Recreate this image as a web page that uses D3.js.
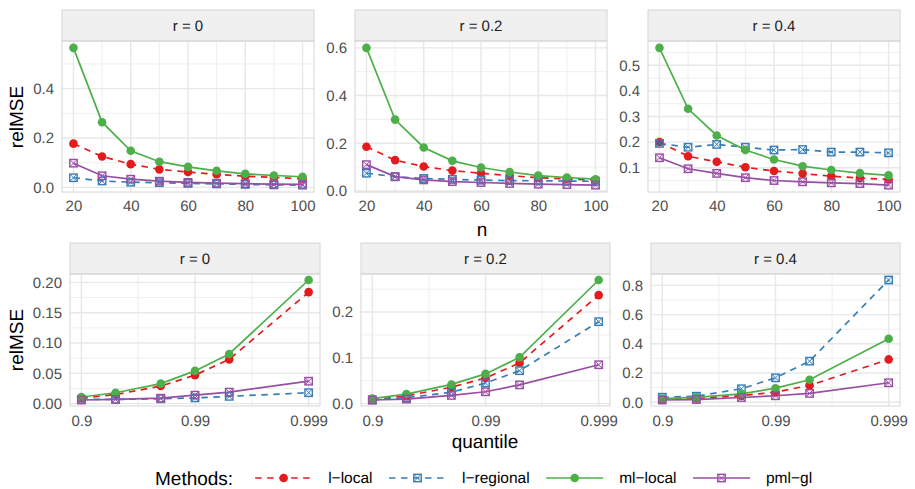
<!DOCTYPE html>
<html>
<head>
<meta charset="utf-8">
<script src="https://cdn.jsdelivr.net/npm/d3@7"></script>
<style>
  body { margin: 0; background: #fff; }
  svg { display: block; font-family: "Liberation Sans", Arial, sans-serif; text-rendering: geometricPrecision; }
</style>
</head>
<body>
<div id="chart"></div>
<script>
const methods = ["l\u2212local", "l\u2212regional", "ml\u2212local", "pml\u2212gl"];
const colors = ["#E41A1C", "#377EB8", "#4DAF4A", "#984EA3"];
const dashed = [true, true, false, false];
const shapes = ["circle", "boxX", "circle", "boxX"];
const rLabels = ["r = 0", "r = 0.2", "r = 0.4"];

const nValues = [20, 30, 40, 50, 60, 70, 80, 90, 100];
const nTicks = [20, 40, 60, 80, 100];
const quantiles = [0.9, 0.95, 0.98, 0.99, 0.995, 0.999];
const qTicks = [0.9, 0.99, 0.999];

// relMSE by n, one array per method, per r
const nLocalR0 = [0.177, 0.125, 0.094, 0.073, 0.062, 0.053, 0.045, 0.040, 0.035];
const nRegionalR0 = [0.039, 0.026, 0.021, 0.019, 0.016, 0.014, 0.012, 0.010, 0.009];
const nMlR0 = [0.565, 0.264, 0.148, 0.104, 0.083, 0.067, 0.055, 0.048, 0.043];
const nPmlR0 = [0.098, 0.047, 0.033, 0.025, 0.020, 0.017, 0.015, 0.013, 0.012];

const nLocalR2 = [0.185, 0.129, 0.102, 0.085, 0.074, 0.064, 0.055, 0.050, 0.045];
const nRegionalR2 = [0.074, 0.059, 0.052, 0.048, 0.045, 0.043, 0.042, 0.041, 0.040];
const nMlR2 = [0.600, 0.299, 0.182, 0.126, 0.098, 0.079, 0.064, 0.056, 0.049];
const nPmlR2 = [0.110, 0.060, 0.046, 0.039, 0.035, 0.031, 0.028, 0.026, 0.024];

const nLocalR4 = [0.200, 0.145, 0.123, 0.102, 0.087, 0.077, 0.067, 0.060, 0.054];
const nRegionalR4 = [0.195, 0.180, 0.191, 0.180, 0.169, 0.171, 0.161, 0.161, 0.158];
const nMlR4 = [0.568, 0.330, 0.226, 0.169, 0.132, 0.106, 0.091, 0.079, 0.070];
const nPmlR4 = [0.139, 0.096, 0.078, 0.061, 0.050, 0.045, 0.041, 0.038, 0.032];

// relMSE by quantile
const qLocalR0 = [0.009, 0.015, 0.029, 0.047, 0.073, 0.184];
const qRegionalR0 = [0.007, 0.007, 0.008, 0.0095, 0.012, 0.018];
const qMlR0 = [0.011, 0.018, 0.033, 0.054, 0.082, 0.204];
const qPmlR0 = [0.006, 0.007, 0.009, 0.014, 0.019, 0.037];

const qLocalR2 = [0.009, 0.017, 0.036, 0.056, 0.089, 0.237];
const qRegionalR2 = [0.008, 0.013, 0.025, 0.045, 0.072, 0.179];
const qMlR2 = [0.011, 0.021, 0.042, 0.065, 0.101, 0.270];
const qPmlR2 = [0.008, 0.010, 0.018, 0.026, 0.041, 0.085];

const qLocalR4 = [0.020, 0.025, 0.045, 0.069, 0.115, 0.293];
const qRegionalR4 = [0.034, 0.041, 0.092, 0.167, 0.281, 0.837];
const qMlR4 = [0.025, 0.033, 0.057, 0.096, 0.154, 0.435];
const qPmlR4 = [0.015, 0.018, 0.032, 0.044, 0.060, 0.133];

const yTicksN = [[0, 0.2, 0.4], [0, 0.2, 0.4, 0.6], [0.1, 0.2, 0.3, 0.4, 0.5]];
const yTicksQ = [[0, 0.05, 0.1, 0.15, 0.2], [0, 0.1, 0.2], [0, 0.2, 0.4, 0.6, 0.8]];
const yDigitsN = [1, 1, 1];
const yDigitsQ = [2, 1, 1];

const nSeries = [
  [nLocalR0, nRegionalR0, nMlR0, nPmlR0],
  [nLocalR2, nRegionalR2, nMlR2, nPmlR2],
  [nLocalR4, nRegionalR4, nMlR4, nPmlR4]
];
const qSeries = [
  [qLocalR0, qRegionalR0, qMlR0, qPmlR0],
  [qLocalR2, qRegionalR2, qMlR2, qPmlR2],
  [qLocalR4, qRegionalR4, qMlR4, qPmlR4]
];

const width = 915, height = 489;
const svg = d3.select("#chart").append("svg")
  .attr("width", width).attr("height", height);

const gridColor = "#e8e8e8";
const borderColor = "#d6d6d6";
const tickColor = "#4d4d4d";
const font = "Liberation Sans, Arial, sans-serif";
const dash = "6.5,5.5";

const qToX = q => -Math.log10(1 - q);

function expand(lo, hi, frac) {
  const pad = (hi - lo) * frac;
  return [lo - pad, hi + pad];
}

function drawPanel(box, label, xs, series, xTicks, xMinor, xScaleFn, yTicks, yDigits) {
  const g = svg.append("g");
  const xVals = xs.map(xScaleFn);
  const x = d3.scaleLinear().domain(expand(d3.min(xVals), d3.max(xVals), 0.05)).range([box.x0, box.x1]);
  const all = series.flat();
  const y = d3.scaleLinear().domain(expand(d3.min(all), d3.max(all), 0.05)).range([box.y1, box.y0]);

  // strip
  g.append("rect")
    .attr("x", box.x0).attr("y", box.s0)
    .attr("width", box.x1 - box.x0).attr("height", box.y0 - box.s0)
    .attr("fill", "#f0f0f0").attr("stroke", borderColor).attr("stroke-width", 1);
  g.append("text")
    .attr("x", (box.x0 + box.x1) / 2).attr("y", (box.s0 + box.y0) / 2)
    .attr("dy", "0.36em").attr("text-anchor", "middle")
    .attr("font-size", 15).attr("fill", "#1a1a1a")
    .text(label);

  // minor grid
  const [yd0, yd1] = y.domain();
  const step = yTicks[1] - yTicks[0];
  const yMinor = [];
  for (let v = yTicks[0] - step / 2; v <= yd1; v += step) if (v >= yd0) yMinor.push(v);
  g.selectAll(null).data(yMinor).join("line")
    .attr("x1", box.x0).attr("x2", box.x1)
    .attr("y1", d => y(d)).attr("y2", d => y(d))
    .attr("stroke", gridColor).attr("stroke-width", 0.7);
  g.selectAll(null).data(xMinor).join("line")
    .attr("y1", box.y0).attr("y2", box.y1)
    .attr("x1", d => x(d)).attr("x2", d => x(d))
    .attr("stroke", gridColor).attr("stroke-width", 0.7);

  // major grid
  g.selectAll(null).data(yTicks).join("line")
    .attr("x1", box.x0).attr("x2", box.x1)
    .attr("y1", d => y(d)).attr("y2", d => y(d))
    .attr("stroke", gridColor).attr("stroke-width", 1.4);
  g.selectAll(null).data(xTicks).join("line")
    .attr("y1", box.y0).attr("y2", box.y1)
    .attr("x1", d => x(xScaleFn(d))).attr("x2", d => x(xScaleFn(d)))
    .attr("stroke", gridColor).attr("stroke-width", 1.4);

  // axes (labels only)
  const yAxis = d3.axisLeft(y).tickValues(yTicks).tickSize(0).tickPadding(8)
    .tickFormat(d => d.toFixed(yDigits));
  g.append("g").attr("transform", `translate(${box.x0},0)`).call(yAxis)
    .call(a => a.select(".domain").remove())
    .selectAll("text").attr("font-size", 15).attr("fill", tickColor).attr("font-family", font);
  const xAxis = d3.axisBottom(x).tickValues(xTicks.map(xScaleFn)).tickSize(0).tickPadding(box.pad)
    .tickFormat((d, i) => String(xTicks[i]));
  g.append("g").attr("transform", `translate(0,${box.y1})`).call(xAxis)
    .call(a => a.select(".domain").remove())
    .selectAll("text").attr("font-size", 15).attr("fill", tickColor).attr("font-family", font);

  // lines, then points on top
  const line = d3.line().x((d, i) => x(xVals[i])).y(d => y(d));
  series.forEach((vals, m) => {
    g.append("path")
      .attr("d", line(vals))
      .attr("fill", "none")
      .attr("stroke", colors[m]).attr("stroke-width", 1.7)
      .attr("stroke-dasharray", dashed[m] ? dash : null);
  });
  series.forEach((vals, m) => {
    vals.forEach((v, i) => drawShape(g, shapes[m], x(xVals[i]), y(v), colors[m]));
  });

  g.append("rect")
    .attr("x", box.x0).attr("y", box.y0)
    .attr("width", box.x1 - box.x0).attr("height", box.y1 - box.y0)
    .attr("fill", "none").attr("stroke", borderColor).attr("stroke-width", 1);
}

function drawShape(g, shape, cx, cy, color) {
  if (shape === "circle") {
    g.append("circle").attr("cx", cx).attr("cy", cy).attr("r", 4.3).attr("fill", color);
  } else {
    const h = 3.7;
    g.append("rect").attr("x", cx - h).attr("y", cy - h).attr("width", 2 * h).attr("height", 2 * h)
      .attr("fill", "none").attr("stroke", color).attr("stroke-width", 1.4);
    g.append("path")
      .attr("d", `M${cx - h},${cy - h}L${cx + h},${cy + h}M${cx - h},${cy + h}L${cx + h},${cy - h}`)
      .attr("stroke", color).attr("stroke-width", 1);
  }
}

const topBoxes = [
  {x0: 62, x1: 314, s0: 10, y0: 41, y1: 192, pad: 8},
  {x0: 355, x1: 607, s0: 10, y0: 41, y1: 192, pad: 8},
  {x0: 648, x1: 900, s0: 10, y0: 41, y1: 192, pad: 8}
];
const bottomBoxes = [
  {x0: 70, x1: 320, s0: 243, y0: 274, y1: 406, pad: 9},
  {x0: 361, x1: 610, s0: 243, y0: 274, y1: 406, pad: 9},
  {x0: 651, x1: 900, s0: 243, y0: 274, y1: 406, pad: 9}
];

topBoxes.forEach((box, k) => {
  drawPanel(box, rLabels[k], nValues, nSeries[k], nTicks, [30, 50, 70, 90], d => d,
    yTicksN[k], yDigitsN[k]);
});
bottomBoxes.forEach((box, k) => {
  drawPanel(box, rLabels[k], quantiles, qSeries[k], qTicks, [1.5, 2.5], qToX,
    yTicksQ[k], yDigitsQ[k]);
});

// axis titles
svg.append("text").attr("transform", "translate(23,117) rotate(-90)")
  .attr("text-anchor", "middle").attr("font-size", 19).attr("fill", "#000").text("relMSE");
svg.append("text").attr("transform", "translate(23,340) rotate(-90)")
  .attr("text-anchor", "middle").attr("font-size", 19).attr("fill", "#000").text("relMSE");
svg.append("text").attr("x", 482).attr("y", 236)
  .attr("text-anchor", "middle").attr("font-size", 19).attr("fill", "#000").text("n");
svg.append("text").attr("x", 485).attr("y", 448)
  .attr("text-anchor", "middle").attr("font-size", 19).attr("fill", "#000").text("quantile");

// legend, laid out left to right from measured text widths
const legend = svg.append("g");
const legendY = 478;
const title = legend.append("text").attr("x", 155).attr("y", legendY).attr("dy", "0.35em")
  .attr("font-size", 19).attr("fill", "#000").text("Methods:");
let cursor = 155 + title.node().getComputedTextLength() + 22;
methods.forEach((m, i) => {
  const x0 = cursor, x1 = x0 + 57;
  legend.append("line").attr("x1", x0).attr("x2", x1).attr("y1", legendY).attr("y2", legendY)
    .attr("stroke", colors[i]).attr("stroke-width", 1.7)
    .attr("stroke-dasharray", dashed[i] ? dash : null);
  drawShape(legend, shapes[i], (x0 + x1) / 2, legendY, colors[i]);
  const t = legend.append("text").attr("x", x1 + 16).attr("y", legendY).attr("dy", "0.35em")
    .attr("font-size", 15.5).attr("fill", "#000").text(m);
  cursor = x1 + 16 + t.node().getComputedTextLength() + 16.5;
});
</script>
</body>
</html>
